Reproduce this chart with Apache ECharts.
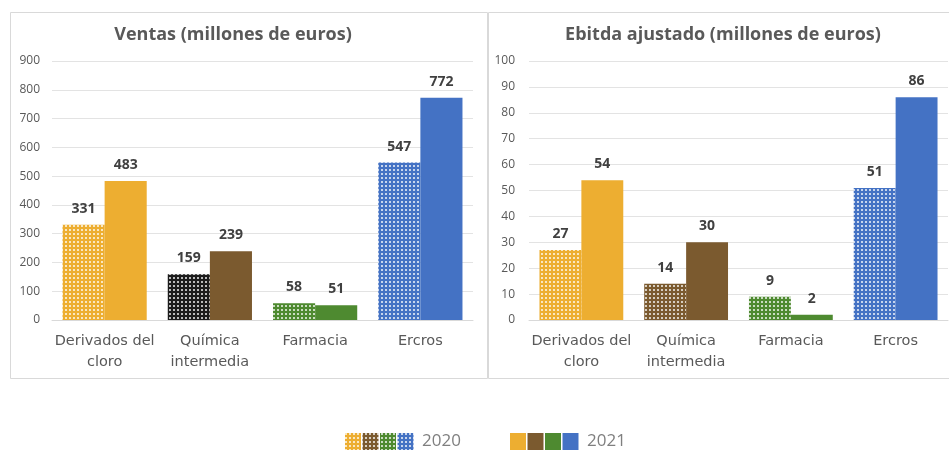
<!DOCTYPE html>
<html>
<head>
<meta charset="utf-8">
<script src="https://cdn.jsdelivr.net/npm/echarts@6/dist/echarts.min.js"></script>
<style>
  html, body { margin: 0; padding: 0; background: #fff; }
  #chart { width: 949px; height: 450px; }
</style>
</head>
<body>
<div id="chart"></div>
<script>
const categories = ["Derivados del\ncloro", "Química\nintermedia", "Farmacia", "Ercros"];
const ventas2020 = [331, 159, 58, 547];
const ventas2021 = [483, 239, 51, 772];
const ebitda2020 = [27, 14, 9, 51];
const ebitda2021 = [54, 30, 2, 86];
const ventasTicks = { max: 900, interval: 100 };
const ebitdaTicks = { max: 100, interval: 10 };
const legendLabels = ["2020", "2021"];

const FONT = "'Open Sans', 'Noto Sans', sans-serif";
const WIDE = "'DejaVu Sans', sans-serif";
const catColors = ["#EDAE31", "#7B5A2F", "#4E8A30", "#4472C4"];
const ventasDotColors = ["#EDAE31", "#1c1c1c", "#4E8A30", "#4472C4"];
const ebitdaDotColors = ["#EDAE31", "#7B5A2F", "#4E8A30", "#4472C4"];

// small dotted tile used for the 2020 bars
function dotted(base) {
  const c = document.createElement("canvas");
  c.width = 4;
  c.height = 4;
  const ctx = c.getContext("2d");
  ctx.fillStyle = base;
  ctx.fillRect(0, 0, 4, 4);
  ctx.fillStyle = "rgba(255,255,255,0.7)";
  ctx.fillRect(1, 1, 2, 2);
  return { image: c, repeat: "repeat" };
}

const labelStyle = {
  show: true,
  position: "top",
  distance: 9,
  color: "#404040",
  fontFamily: FONT,
  fontWeight: "bold",
  fontSize: 14
};

function xAxis(gridIndex) {
  return {
    type: "category",
    gridIndex,
    data: categories,
    axisTick: { show: false },
    axisLine: { lineStyle: { color: "#d9d9d9" } },
    axisLabel: {
      color: "#595959",
      fontFamily: WIDE,
      fontSize: 14.5,
      lineHeight: 21,
      margin: 11,
      interval: 0
    }
  };
}

function yAxis(gridIndex, ticks, margin) {
  return {
    type: "value",
    gridIndex,
    min: 0,
    max: ticks.max,
    interval: ticks.interval,
    axisLine: { show: false },
    axisTick: { show: false },
    axisLabel: { color: "#595959", fontFamily: FONT, fontSize: 12, margin },
    splitLine: { lineStyle: { color: "#e3e3e3" } }
  };
}

function barSeries(name, idx, values, colors, pattern) {
  return {
    name,
    type: "bar",
    xAxisIndex: idx,
    yAxisIndex: idx,
    barGap: "0%",
    barCategoryGap: "20%",
    label: labelStyle,
    animation: false,
    data: values.map((v, i) => ({
      value: v,
      itemStyle: { color: pattern ? dotted(colors[i]) : colors[i] }
    }))
  };
}

// legend swatches drawn as graphics
const legendGraphics = [];
const legendX = [345, 510];
[ebitdaDotColors, catColors].forEach((cols, k) => {
  cols.forEach((col, i) => {
    legendGraphics.push({
      type: "rect",
      shape: { x: legendX[k] + i * 17.5, y: 433, width: 16, height: 17 },
      style: { fill: k === 0 ? dotted(col) : col }
    });
  });
  legendGraphics.push({
    type: "text",
    x: legendX[k] + 77,
    y: 441,
    style: {
      text: legendLabels[k],
      fill: "#7f7f7f",
      font: "17px " + FONT,
      verticalAlign: "middle"
    }
  });
});

const titleStyle = { color: "#595959", fontFamily: FONT, fontSize: 18, fontWeight: "bold" };

const chart = echarts.init(document.getElementById("chart"));
chart.setOption({
  backgroundColor: "#fff",
  animation: false,
  title: [
    { text: "Ventas (millones de euros)", left: 228, top: 21, textAlign: "center", textStyle: titleStyle },
    { text: "Ebitda ajustado (millones de euros)", left: 718, top: 21, textAlign: "center", textStyle: titleStyle }
  ],
  grid: [
    { left: 52, right: 476, top: 61, bottom: 130 },
    { left: 529, right: 1, top: 61, bottom: 130 }
  ],
  xAxis: [xAxis(0), xAxis(1)],
  yAxis: [yAxis(0, ventasTicks, 12), yAxis(1, ebitdaTicks, 14)],
  series: [
    barSeries("2020", 0, ventas2020, ventasDotColors, true),
    barSeries("2021", 0, ventas2021, catColors, false),
    barSeries("2020", 1, ebitda2020, ebitdaDotColors, true),
    barSeries("2021", 1, ebitda2021, catColors, false)
  ],
  graphic: [
    {
      type: "rect",
      silent: true,
      z: -10,
      shape: { x: 10.5, y: 12.5, width: 477, height: 366 },
      style: { fill: "none", stroke: "#d9d9d9", lineWidth: 1 }
    },
    {
      type: "rect",
      silent: true,
      z: -10,
      shape: { x: 488.5, y: 12.5, width: 470, height: 366 },
      style: { fill: "none", stroke: "#d9d9d9", lineWidth: 1 }
    }
  ].concat(legendGraphics)
});
</script>
</body>
</html>
